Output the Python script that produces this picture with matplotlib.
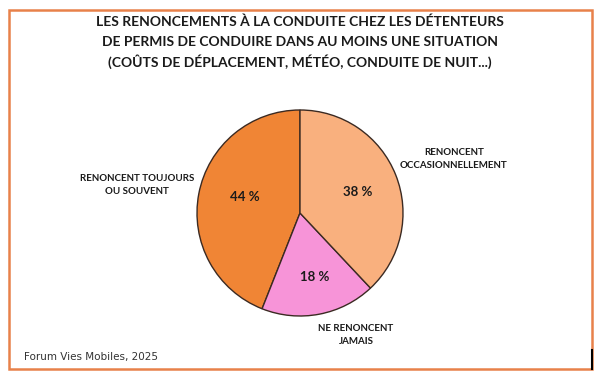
import matplotlib
matplotlib.use("Agg")
import matplotlib.pyplot as plt
from matplotlib.patches import Rectangle
from matplotlib.lines import Line2D

title_lines = ["LES RENONCEMENTS À LA CONDUITE CHEZ LES DÉTENTEURS",
               "DE PERMIS DE CONDUIRE DANS AU MOINS UNE SITUATION",
               "(COÛTS DE DÉPLACEMENT, MÉTÉO, CONDUITE DE NUIT...)"]
categories = ["RENONCENT TOUJOURS\nOU SOUVENT", "NE RENONCENT\nJAMAIS", "RENONCENT\nOCCASIONNELLEMENT"]
values = [44, 18, 38]
pct_labels = ["44 %", "18 %", "38 %"]
colors = ["#F08535", "#F794D8", "#F9B07E"]
source = "Forum Vies Mobiles, 2025"

W, H = 600, 378
fig = plt.figure(figsize=(6, 3.78), dpi=100)
fig.patch.set_facecolor("white")

def fx(x): return x / W
def fy(y): return 1 - y / H

# border
fig.patches.append(Rectangle((fx(9), fy(369)), fx(592) - fx(9), fy(10) - fy(369),
                             transform=fig.transFigure, fill=False,
                             edgecolor="#E8814A", linewidth=1.8))
fig.lines.append(Line2D([fx(592), fx(592)], [fy(350), fy(369)], transform=fig.transFigure,
                        color="black", linewidth=1.5))

font = "Lato"
for i, t in enumerate(title_lines):
    fig.text(0.5, fy(22 + 20 * i), t, ha="center", va="center", fontsize=10,
             fontweight="bold", family=font, color="#1a1a1a")

# pie
cx, cy, r = 300, 213, 103
ax = fig.add_axes([fx(cx - r), fy(cy + r), 2 * r / W, 2 * r / H])
wedges, _ = ax.pie(values, colors=colors, startangle=90, counterclock=True,
                   wedgeprops=dict(edgecolor="#3b2a22", linewidth=1.0))
ax.set_xlim(-1, 1)
ax.set_ylim(-1, 1)
ax.axis("off")

pct_pos = [(245, 197), (315, 277), (358, 192)]
for (x, y), t in zip(pct_pos, pct_labels):
    fig.text(fx(x), fy(y), t, ha="center", va="center", fontsize=9.5,
             fontweight="bold", family=font, color="#1a1a1a")

cat_pos = [(137, 185), (356, 335), (454, 159)]
for (x, y), t in zip(cat_pos, categories):
    fig.text(fx(x), fy(y), t, ha="center", va="center", fontsize=7,
             fontweight="bold", family=font, color="#1a1a1a", linespacing=1.55)

fig.text(fx(24), fy(357), source, ha="left", va="center", fontsize=7.5,
         family="DejaVu Sans", color="#333333")

fig.savefig("out.png", dpi=100, facecolor="white")
